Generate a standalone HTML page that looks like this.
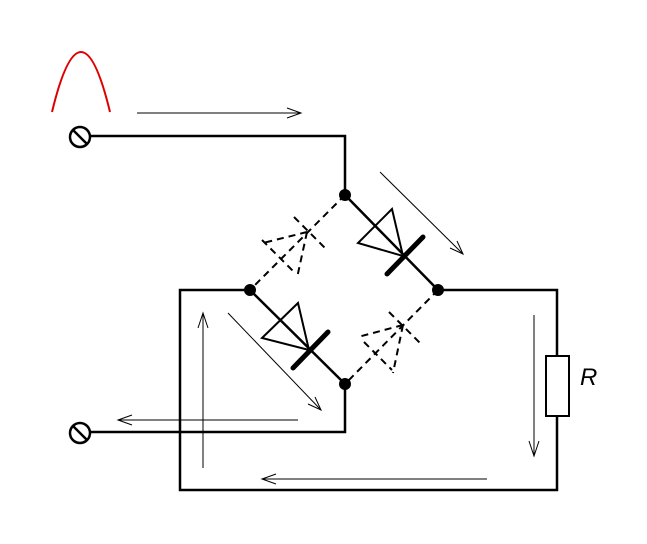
<!DOCTYPE html>
<html><head><style>html,body{margin:0;padding:0;background:#fff;}</style></head><body>
<svg width="647" height="539" xmlns="http://www.w3.org/2000/svg">
<rect width="647" height="539" fill="#fff"/>
<path d="M52,112 Q81,-8 110,112" fill="none" stroke="#d00" stroke-width="2"/>
<g fill="none" stroke="#000" stroke-width="2.5">
<circle cx="80" cy="137" r="10"/><line x1="73" y1="130" x2="87" y2="144"/>
<circle cx="80" cy="433" r="10"/><line x1="73" y1="426" x2="87" y2="440"/>
<polyline points="91,136 345,136 345,195"/>
<polyline points="91,432 345,432 345,384"/>
<polyline points="250,290 180,290 180,490 557,490 557,416"/>
<polyline points="438,290 557,290 557,356"/>
<rect x="546" y="356" width="23" height="60" stroke-width="2"/>
<line x1="345" y1="195" x2="438" y2="290"/>
<line x1="250" y1="290" x2="345" y2="384"/>
<polygon points="392,209 358,243 403,256" stroke-width="2"/>
<polygon points="298,303 262,338 309,350" stroke-width="2"/>
</g>
<g stroke="#000" stroke-width="5" stroke-linecap="round">
<line x1="387" y1="274" x2="423" y2="237"/>
<line x1="293" y1="368" x2="328" y2="332"/>
</g>
<g stroke="#000" stroke-width="2" stroke-dasharray="7,5" fill="none">
<line x1="345" y1="195" x2="250" y2="290"/>
<line x1="438" y1="290" x2="345" y2="384"/>
<line x1="307" y1="232" x2="263" y2="243"/>
<line x1="307" y1="232" x2="297" y2="278"/>
<line x1="294" y1="217" x2="327" y2="250"/>
<line x1="262" y1="240" x2="294" y2="272"/>
<line x1="403" y1="325" x2="358" y2="337"/>
<line x1="403" y1="325" x2="393" y2="373"/>
<line x1="389" y1="312" x2="422" y2="345"/>
<line x1="364" y1="342" x2="392" y2="370"/>
</g>
<g fill="#000">
<circle cx="345" cy="195" r="6"/><circle cx="250" cy="290" r="6"/>
<circle cx="438" cy="290" r="6"/><circle cx="345" cy="384" r="6"/>
</g>
<g stroke="#000" stroke-width="1" fill="none">
<line x1="137" y1="113" x2="301" y2="113"/><polyline points="287,108 301,113 287,118"/>
<line x1="380" y1="172" x2="463" y2="254"/><polyline points="450,248 463,254 457,241"/>
<line x1="228" y1="313" x2="321" y2="410"/><polyline points="308,404 321,410 315,397"/>
<line x1="298" y1="420" x2="118" y2="420"/><polyline points="132,415 118,420 132,425"/>
<line x1="203" y1="468" x2="203" y2="313"/><polyline points="198,328 203,313 208,328"/>
<line x1="487" y1="479" x2="262" y2="479"/><polyline points="276,474 262,479 276,484"/>
<line x1="534" y1="315" x2="534" y2="456"/><polyline points="529,441 534,456 539,441"/>
</g>
<text x="580" y="385" font-family="Liberation Sans, sans-serif" font-style="italic" font-size="24">R</text>
</svg>
</body></html>
